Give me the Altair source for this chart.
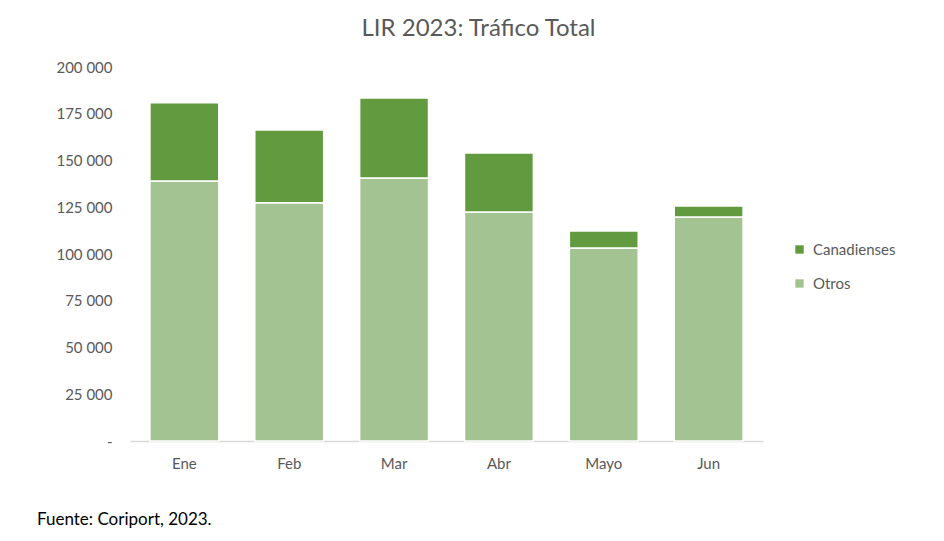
import altair as alt
import pandas as pd

meses = ["Ene", "Feb", "Mar", "Abr", "Mayo", "Jun"]
otros = [139000, 127400, 140600, 122500, 103200, 119800]
canadienses = [41900, 38900, 42800, 31500, 9100, 5900]
series = ["Canadienses", "Otros"]
colores = ["#629a3f", "#a3c492"]

rows = []
for m, o, c in zip(meses, otros, canadienses):
    rows.append({"Mes": m, "Serie": "Otros", "Valor": o, "orden": 0})
    rows.append({"Mes": m, "Serie": "Canadienses", "Valor": c, "orden": 1})
df = pd.DataFrame(rows)

FONT = "Lato"
GREY = "#595959"

bars = alt.Chart(df).mark_bar(stroke="white", strokeWidth=1.5).encode(
    x=alt.X("Mes:N", sort=meses, title=None,
            scale=alt.Scale(paddingInner=0.343, paddingOuter=0.19),
            axis=alt.Axis(labelAngle=0, labelColor=GREY, labelFontSize=15, labelFont=FONT,
                          labelPadding=15, ticks=False, domainColor="#d9d9d9", domainWidth=1.5)),
    y=alt.Y("Valor:Q", stack="zero", title=None,
            scale=alt.Scale(domain=[0, 200000]),
            axis=alt.Axis(values=[0, 25000, 50000, 75000, 100000, 125000, 150000, 175000, 200000],
                          labelExpr="datum.value == 0 ? '-' : replace(format(datum.value, ','), regexp(',', 'g'), ' ')",
                          labelColor=GREY, labelFontSize=15, labelFont=FONT, labelPadding=18,
                          ticks=False, domain=False, grid=False)),
    color=alt.Color("Serie:N", scale=alt.Scale(domain=series, range=colores),
                    legend=alt.Legend(title=None, orient="none", legendX=662, legendY=175,
                                      symbolType="square", symbolSize=70, symbolStrokeWidth=0,
                                      labelFontSize=15, labelFont=FONT, labelColor=GREY,
                                      rowPadding=18, labelOffset=6)),
    order=alt.Order("orden:Q"),
)

footer = alt.Chart(pd.DataFrame({"t": ["Fuente: Coriport, 2023."]})).mark_text(
    align="left", baseline="middle", fontSize=17, font=FONT, color="#000000"
).encode(text="t:N", x=alt.value(-93), y=alt.value(453))

chart = alt.layer(bars, footer).properties(
    width=633, height=374,
    title=alt.TitleParams("LIR 2023: Tráfico Total", fontSize=24, font=FONT, fontWeight="normal",
                          color=GREY, anchor="middle", dx=32, offset=19),
    autosize=alt.AutoSizeParams(type="none"),
    padding={"left": 122, "top": 59, "right": 173, "bottom": 92},
).configure_view(stroke=None)

chart.save("out.html", embed_options={"renderer": "svg", "actions": False})
